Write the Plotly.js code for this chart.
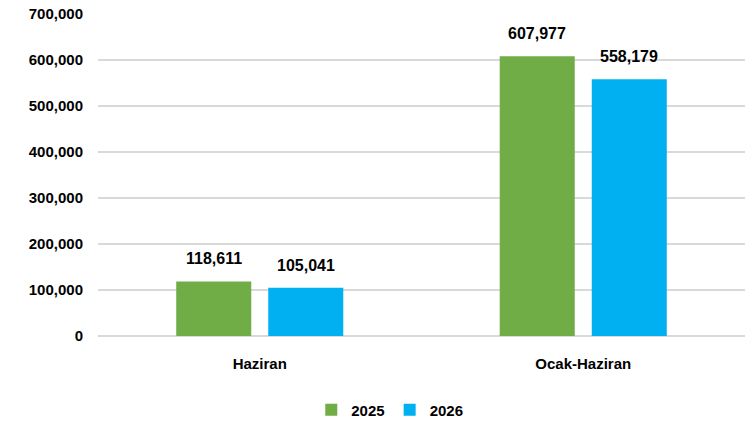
<!DOCTYPE html>
<html><head><meta charset="utf-8">
<script src="https://cdn.plot.ly/plotly-3.0.1.min.js"></script>
<style>html,body{margin:0;padding:0;background:#fff;}#chart{width:751px;height:424px;}</style>
</head><body><div id="chart"></div>
<script>
const categories = ["Haziran", "Ocak-Haziran"];
const series2025 = [118611, 607977];
const series2026 = [105041, 558179];
const seriesNames = ["2025", "2026"];
const yTicks = [0, 100000, 200000, 300000, 400000, 500000, 600000, 700000];
const yTickLabels = ["0", "100,000", "200,000", "300,000", "400,000", "500,000", "600,000", "700,000"];

const FONT = "'Liberation Sans', Arial, sans-serif";
const fmt = v => v.toLocaleString('en-US');

const traces = [
  {type:'bar', name:seriesNames[0], x:categories, y:series2025, marker:{color:'#70AD47'}, hoverinfo:'skip'},
  {type:'bar', name:seriesNames[1], x:categories, y:series2026, marker:{color:'#00B0F0'}, hoverinfo:'skip'}
];

const annotations = [];
[[series2025, -46], [series2026, 46]].forEach(([vals, dx]) => {
  vals.forEach((v, i) => annotations.push({
    xref:'x', yref:'y', x:categories[i], y:v, xshift:dx, yshift:12, yanchor:'bottom',
    text:fmt(v), showarrow:false,
    font:{family:FONT, size:16, color:'#000', weight:'bold'}
  }));
});

const layout = {
  width:751, height:424,
  margin:{l:98, r:6, t:14, b:88, autoexpand:false},
  paper_bgcolor:'#fff', plot_bgcolor:'#fff',
  barmode:'group', bargap:0.431, bargroupgap:0.185,
  font:{family:FONT, size:15, color:'#000', weight:'bold'},
  xaxis:{showgrid:false, showline:false, zeroline:false, ticks:'',
         tickfont:{family:FONT, size:15, color:'#000', weight:'bold'}, ticklabelstandoff:17},
  yaxis:{range:[0,700000], tickvals:yTicks, ticktext:yTickLabels, showgrid:true,
         gridcolor:'#d9d9d9', gridwidth:2, zeroline:true, zerolinecolor:'#d9d9d9', zerolinewidth:2,
         showline:false, ticks:'', ticklabelstandoff:14,
         tickfont:{family:FONT, size:15, color:'#000', weight:'bold'}},
  annotations:annotations,
  showlegend:true,
  legend:{orientation:'h', xref:'container', yref:'container', x:0.519, xanchor:'center', y:0.033, yanchor:'middle',
          font:{family:FONT, size:15, color:'#000', weight:'bold'}, itemwidth:30, traceorder:'normal'}
};

Plotly.newPlot('chart', traces, layout, {displayModeBar:false, staticPlot:true});
</script></body></html>
